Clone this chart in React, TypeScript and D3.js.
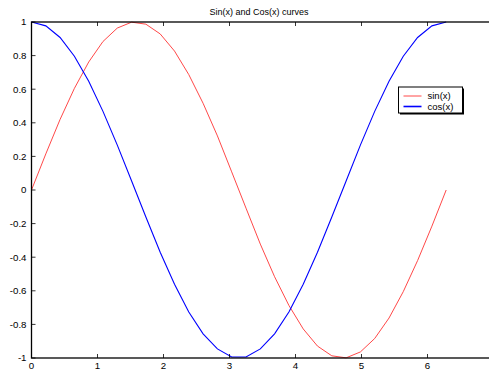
import { scaleLinear, line } from 'd3'

const width = 489
const height = 372

const margin = { top: 22, left: 31.5, bottom: 14 }
const innerWidth = 462
const innerHeight = height - margin.top - margin.bottom

// sample positions
const xValues = [
  0, 0.217, 0.433, 0.65, 0.867, 1.083, 1.3, 1.517, 1.733, 1.95,
  2.167, 2.383, 2.6, 2.817, 3.033, 3.25, 3.467, 3.683, 3.9, 4.117,
  4.333, 4.55, 4.767, 4.983, 5.2, 5.417, 5.633, 5.85, 6.067, 6.283
]

const sinValues = [
  0, 0.215, 0.42, 0.605, 0.762, 0.884, 0.964, 0.999, 0.987, 0.929,
  0.827, 0.687, 0.516, 0.322, 0.108, -0.108, -0.322, -0.516, -0.687, -0.827,
  -0.929, -0.987, -0.999, -0.964, -0.884, -0.762, -0.605, -0.42, -0.215, 0
]

const cosValues = [
  1, 0.977, 0.908, 0.796, 0.647, 0.468, 0.267, 0.054, -0.161, -0.37,
  -0.561, -0.726, -0.856, -0.946, -0.994, -0.994, -0.946, -0.856, -0.726, -0.561,
  -0.37, -0.161, 0.054, 0.267, 0.468, 0.647, 0.796, 0.908, 0.977, 1
]

const xTicks = [0, 1, 2, 3, 4, 5, 6, 7]
const yTicks = [-1, -0.8, -0.6, -0.4, -0.2, 0, 0.2, 0.4, 0.6, 0.8, 1]

const seriesNames = ['sin(x)', 'cos(x)']
const seriesColors = ['#ff3333', '#0000ff']

const titleText = 'Sin(x) and Cos(x) curves'
const font = 'Arial, "Liberation Sans", sans-serif'

function App() {
  const xScale = scaleLinear().domain([0, 7]).range([0, innerWidth])
  const yScale = scaleLinear().domain([-1, 1]).range([innerHeight, 0])

  const pathFor = (ys: number[]) =>
    line<number>()
      .x((_, i) => xScale(xValues[i]))
      .y((d) => yScale(d))(ys) as string

  const series = [sinValues, cosValues]

  const fmt = (v: number) => (Math.abs(v) < 1e-9 ? '0' : String(+v.toFixed(1)))

  return (
    <svg
      width={width}
      height={height}
      style={{ position: 'absolute', left: 0, top: 0, background: '#fff' }}
    >
      <rect width={width} height={height} fill="#fff" />
      <text
        x={259}
        y={14.5}
        textAnchor="middle"
        fontSize={9}
        fontFamily={font}
      >{titleText}</text>
      <g transform={`translate(${margin.left}, ${margin.top})`}>
        {series.map((ys, i) => (
          <path
            key={seriesNames[i]}
            d={pathFor(ys)}
            fill="none"
            stroke={seriesColors[i]}
            strokeWidth={i === 0 ? 0.9 : 1.1}
          />
        ))}
        {xTicks.map((t) => (
          <g key={t} transform={`translate(${xScale(t)},0)`}>
            <line y1={innerHeight} y2={innerHeight - 4} stroke="#000" strokeWidth={0.8} />
            <line y1={0} y2={4} stroke="#000" strokeWidth={0.8} />
            {t < 7 && (
              <text
                y={innerHeight + 11}
                textAnchor="middle"
                fontSize={9.7}
                fontFamily={font}
              >{t}</text>
            )}
          </g>
        ))}
        {yTicks.map((t) => (
          <g key={t} transform={`translate(0,${yScale(t)})`}>
            <line x1={0} x2={4} stroke="#000" strokeWidth={0.8} />
            <line x1={innerWidth} x2={innerWidth - 4} stroke="#000" strokeWidth={0.8} />
            <text
              x={-5}
              dy="0.35em"
              textAnchor="end"
              fontSize={9.7}
              fontFamily={font}
            >{fmt(t)}</text>
          </g>
        ))}
        <rect
          width={innerWidth}
          height={innerHeight}
          fill="none"
          stroke="#000"
          strokeWidth={1.3}
        />
      </g>
      <g transform="translate(398.5, 87)">
        <rect x={1.5} y={1.5} width={64} height={26} fill="#000" />
        <rect width={64} height={26} fill="#fff" stroke="#000" strokeWidth={1} />
        {seriesNames.map((name, i) => (
          <g key={name} transform={`translate(0, ${9 + i * 10.5})`}>
            <line x1={5} x2={23} stroke={seriesColors[i]} strokeWidth={i === 0 ? 0.9 : 1.6} />
            <text x={29} dy="0.35em" fontSize={9.5} fontFamily={font}>{name}</text>
          </g>
        ))}
      </g>
    </svg>
  )
}

export default App
